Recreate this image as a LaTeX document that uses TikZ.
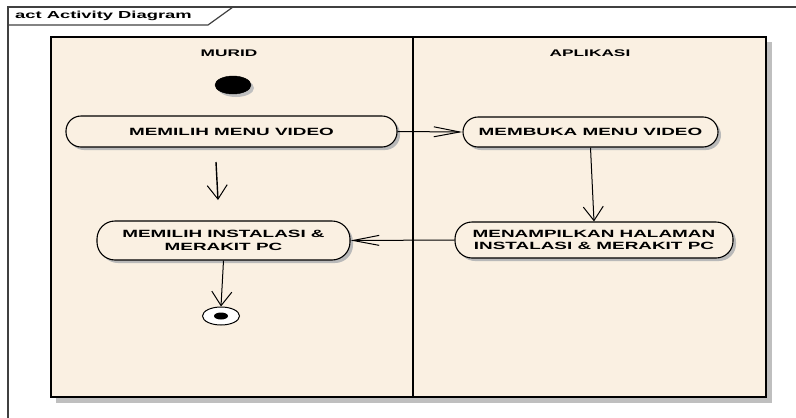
\documentclass[tikz,border=0pt]{standalone}
\usepackage{fontspec}
\newfontfamily\dfont[FakeStretch=1.8]{Liberation Sans}
\usetikzlibrary{arrows.meta,shadows,shapes.geometric}
\definecolor{lanebg}{HTML}{FAF0E2}
\definecolor{framec}{HTML}{404040}
\tikzset{
  act/.style={draw=black, line width=1.1pt, fill=lanebg, rounded corners=15pt,
    align=center, inner sep=0pt, font=\dfont\bfseries\fontsize{10.5}{12.8}\selectfont,
    drop shadow={shadow xshift=3pt, shadow yshift=-3pt, fill=gray!55, opacity=1}},
  flow/.style={line width=1pt, draw=black},
  harr/.style={flow, -{Straight Barb[length=26pt,width=10pt,line width=1pt]}},
  varr/.style={flow, -{Straight Barb[length=14pt,width=20pt,line width=1pt]}},
  lanelbl/.style={font=\dfont\bfseries\fontsize{9.6}{11}\selectfont, inner sep=0pt}
}
\begin{document}
\begin{tikzpicture}[x=1pt,y=-1pt]
\useasboundingbox (0,0) rectangle (796,418);
% outer frame
\draw[framec, line width=1.2pt] (8,418) -- (8,7) -- (796,7);
\draw[framec, line width=1.2pt] (8,25) -- (208,25) -- (233,7);
\node[anchor=west, inner sep=0pt, font=\dfont\bfseries\fontsize{10.2}{12}\selectfont] (title) at (15,16) {act Activity Diagram};
% swimlanes
\fill[gray!50] (56,42) rectangle (772,403);
\draw[black, line width=1.3pt, fill=lanebg] (51,37) rectangle (766,397);
\draw[black, line width=1.3pt] (413,37) -- (413,397);
\node[lanelbl] (murid) at (229,53.5) {MURID};
\node[lanelbl] (apl) at (590,53.5) {APLIKASI};
% start
\fill[gray!50] (236,88) ellipse [x radius=18, y radius=9];
\node[draw=black, fill=black, ellipse, minimum width=36pt, minimum height=18pt, inner sep=0pt] (start) at (233,85) {};
% activities
\node[act, minimum width=331pt, minimum height=31pt] (a1) at (231.5,131.5) {MEMILIH MENU VIDEO};
\node[act, minimum width=255pt, minimum height=30pt] (a2) at (590.5,132) {MEMBUKA MENU VIDEO};
\node[act, minimum width=278pt, minimum height=36pt, rounded corners=17pt] (a3) at (594,240) {MENAMPILKAN HALAMAN\\INSTALASI \& MERAKIT PC};
\node[act, minimum width=253pt, minimum height=39pt, rounded corners=18pt] (a4) at (223.5,240.5) {MEMILIH INSTALASI \&\\MERAKIT PC};
% final
\node[draw=black, line width=1pt, fill=white, ellipse, minimum width=37pt, minimum height=18pt, inner sep=0pt] (final) at (221,316) {};
\node[fill=black, ellipse, minimum width=14pt, minimum height=7pt, inner sep=0pt] (finaldot) at (221,316) {};
% free arrow
\coordinate (fa) at (216,162);
\coordinate (fb) at (218,200);
% connectors
\draw[harr] (a1.east) -- (a2.west);
\draw[varr] (a2.south) -- (a3.north);
\draw[harr] (a3.west) -- (a4.east);
\draw[varr, line width=1.4pt] (fa) -- (fb);
\draw[varr] (a4.south) -- (final.north);
\end{tikzpicture}
\end{document}
